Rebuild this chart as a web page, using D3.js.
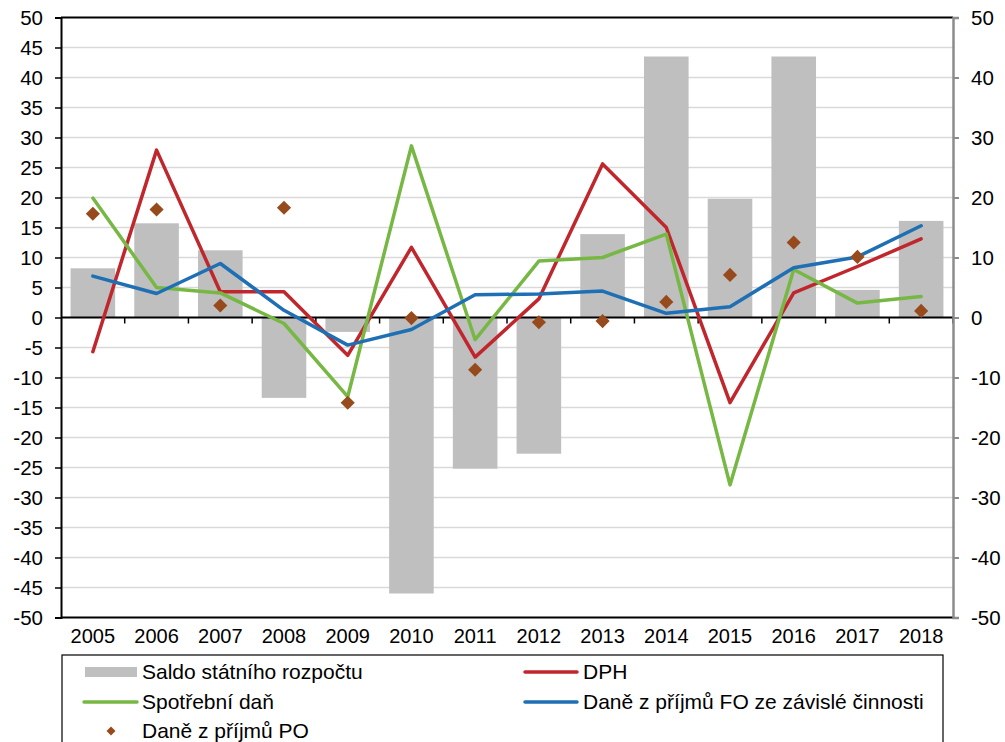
<!DOCTYPE html>
<html>
<head>
<meta charset="utf-8">
<script src="https://cdn.jsdelivr.net/npm/d3@7.9.0/dist/d3.min.js"></script>
<style>
  body { margin: 0; background: #fff; }
  svg { display: block; font-family: "Liberation Sans", Arial, sans-serif; }
</style>
</head>
<body>
<svg id="chart" width="1005" height="742"></svg>
<script>
// data
const years = ["2005","2006","2007","2008","2009","2010","2011","2012","2013","2014","2015","2016","2017","2018"];
const saldo = [8.2, 15.7, 11.2, -13.4, -2.4, -46.0, -25.2, -22.7, 13.9, 43.5, 19.8, 43.5, 4.6, 16.1];
const dph = [-5.7, 27.9, 4.3, 4.3, -6.3, 11.7, -6.6, 3.1, 25.6, 15.0, -14.2, 4.1, 8.5, 13.1];
const spotrebni = [19.9, 5.0, 4.1, -1.0, -13.2, 28.6, -3.7, 9.4, 10.0, 13.9, -27.9, 8.0, 2.4, 3.5];
const daneFO = [6.9, 4.0, 9.0, 1.2, -4.6, -2.0, 3.8, 3.9, 4.4, 0.7, 1.8, 8.3, 10.1, 15.3];
const danePO = [17.3, 18.0, 2.0, 18.3, -14.2, -0.1, -8.7, -0.8, -0.6, 2.6, 7.1, 12.5, 10.1, 1.1];
const leftTicks = d3.range(-50, 51, 5);
const rightTicks = d3.range(-50, 51, 10);

const svg = d3.select("#chart");
const plotLeft = 61, plotRight = 953, plotTop = 17.5, plotBottom = 617.5;

const x = d3.scaleBand().domain(years).range([plotLeft, plotRight]).paddingInner(0.3).paddingOuter(0.15);
const xc = d => x(d) + x.bandwidth() / 2;
const y = d3.scaleLinear().domain([-50, 50]).range([plotBottom, plotTop]);
const y2 = d3.scaleLinear().domain([-50, 50]).range([plotBottom, plotTop]);

const colors = { saldo: "#bfbfbf", dph: "#c0272d", spot: "#77b845", fo: "#1f6fb5", po: "#974b1c" };
const tickFont = 20.5, legendFont = 21;
const fmt = d => String(d); // plain hyphen minus like the original

// gridlines
svg.append("g").selectAll("line")
  .data(leftTicks.filter(t => t !== 50 && t !== -50 && t !== 0))
  .join("line")
  .attr("x1", plotLeft).attr("x2", plotRight)
  .attr("y1", d => y(d)).attr("y2", d => y(d))
  .attr("stroke", "#d9d9d9").attr("stroke-width", 1.5);

// bars
svg.append("g").selectAll("rect")
  .data(years)
  .join("rect")
  .attr("x", d => x(d))
  .attr("width", x.bandwidth())
  .attr("y", (d, i) => y(Math.max(0, saldo[i])))
  .attr("height", (d, i) => Math.abs(y(saldo[i]) - y(0)))
  .attr("fill", colors.saldo);

// top and bottom frame lines
svg.append("line").attr("x1", plotLeft).attr("x2", plotRight).attr("y1", y(50)).attr("y2", y(50))
  .attr("stroke", "#000").attr("stroke-width", 2);
svg.append("line").attr("x1", plotLeft).attr("x2", plotRight).attr("y1", y(-50)).attr("y2", y(-50))
  .attr("stroke", "#000").attr("stroke-width", 2);

// zero line with category ticks
svg.append("line").attr("x1", plotLeft).attr("x2", plotRight).attr("y1", y(0)).attr("y2", y(0))
  .attr("stroke", "#000").attr("stroke-width", 2);
svg.append("g").selectAll("line")
  .data(d3.range(1, years.length + 1))
  .join("line")
  .attr("x1", i => plotLeft + i * x.step())
  .attr("x2", i => plotLeft + i * x.step())
  .attr("y1", y(0)).attr("y2", y(0) + 6)
  .attr("stroke", "#000").attr("stroke-width", 1.5);

// left axis
const gl = svg.append("g").attr("transform", `translate(${plotLeft},0)`)
  .call(d3.axisLeft(y).tickValues(leftTicks).tickSize(6).tickPadding(12).tickFormat(fmt));
gl.select(".domain").attr("stroke", "#000").attr("stroke-width", 2);
gl.selectAll(".tick line").attr("stroke", "#000").attr("stroke-width", 1.5);
gl.selectAll(".tick text").attr("font-size", tickFont).attr("fill", "#000").attr("font-family", "Liberation Sans, Arial, sans-serif");

// right axis
const gr = svg.append("g").attr("transform", `translate(${plotRight},0)`)
  .call(d3.axisRight(y2).tickValues(rightTicks).tickSize(6).tickPadding(12).tickFormat(fmt));
gr.select(".domain").attr("stroke", "#8c8c8c").attr("stroke-width", 2.5);
gr.selectAll(".tick line").attr("stroke", "#8c8c8c").attr("stroke-width", 2);
gr.selectAll(".tick text").attr("font-size", tickFont).attr("fill", "#000").attr("font-family", "Liberation Sans, Arial, sans-serif");

// x labels
svg.append("g").selectAll("text")
  .data(years)
  .join("text")
  .attr("x", d => xc(d))
  .attr("y", 643)
  .attr("text-anchor", "middle")
  .attr("font-size", 20)
  .text(d => d);

// lines
const line = d3.line().x((d, i) => xc(years[i])).y(d => y(d));
[[dph, colors.dph], [spotrebni, colors.spot], [daneFO, colors.fo]].forEach(([vals, c]) => {
  svg.append("path").datum(vals)
    .attr("d", line)
    .attr("fill", "none")
    .attr("stroke", c)
    .attr("stroke-width", 3.5)
    .attr("stroke-linejoin", "round")
    .attr("stroke-linecap", "round");
});

// diamonds
const diamond = d3.symbol().type(d3.symbolSquare).size(100);
svg.append("g").selectAll("path")
  .data(danePO)
  .join("path")
  .attr("d", diamond)
  .attr("transform", (d, i) => `translate(${xc(years[i])},${y(d)}) rotate(45)`)
  .attr("fill", colors.po);

// legend
const lg = svg.append("g");
lg.append("rect").attr("x", 62).attr("y", 655).attr("width", 881).attr("height", 100)
  .attr("fill", "#fff").attr("stroke", "#000").attr("stroke-width", 1.2);

const rows = [672, 702, 731];
lg.append("rect").attr("x", 85).attr("y", rows[0] - 5).attr("width", 52).attr("height", 10).attr("fill", colors.saldo);
lg.append("text").attr("x", 142).attr("y", rows[0] + 7).attr("font-size", legendFont).text("Saldo státního rozpočtu");

lg.append("line").attr("x1", 84).attr("x2", 137).attr("y1", rows[1]).attr("y2", rows[1])
  .attr("stroke", colors.spot).attr("stroke-width", 3.5).attr("stroke-linecap", "round");
lg.append("text").attr("x", 142).attr("y", rows[1] + 7).attr("font-size", legendFont).text("Spotřební daň");

lg.append("path").attr("d", d3.symbol().type(d3.symbolSquare).size(40))
  .attr("transform", `translate(111,${rows[2]}) rotate(45)`).attr("fill", colors.po);
lg.append("text").attr("x", 142).attr("y", rows[2] + 7).attr("font-size", legendFont).text("Daně z příjmů PO");

lg.append("line").attr("x1", 525).attr("x2", 577).attr("y1", rows[0]).attr("y2", rows[0])
  .attr("stroke", colors.dph).attr("stroke-width", 3.5).attr("stroke-linecap", "round");
lg.append("text").attr("x", 583).attr("y", rows[0] + 7).attr("font-size", legendFont).text("DPH");

lg.append("line").attr("x1", 525).attr("x2", 577).attr("y1", rows[1]).attr("y2", rows[1])
  .attr("stroke", colors.fo).attr("stroke-width", 3.5).attr("stroke-linecap", "round");
lg.append("text").attr("x", 583).attr("y", rows[1] + 7).attr("font-size", legendFont).text("Daně z příjmů FO ze závislé činnosti");
</script>
</body>
</html>
